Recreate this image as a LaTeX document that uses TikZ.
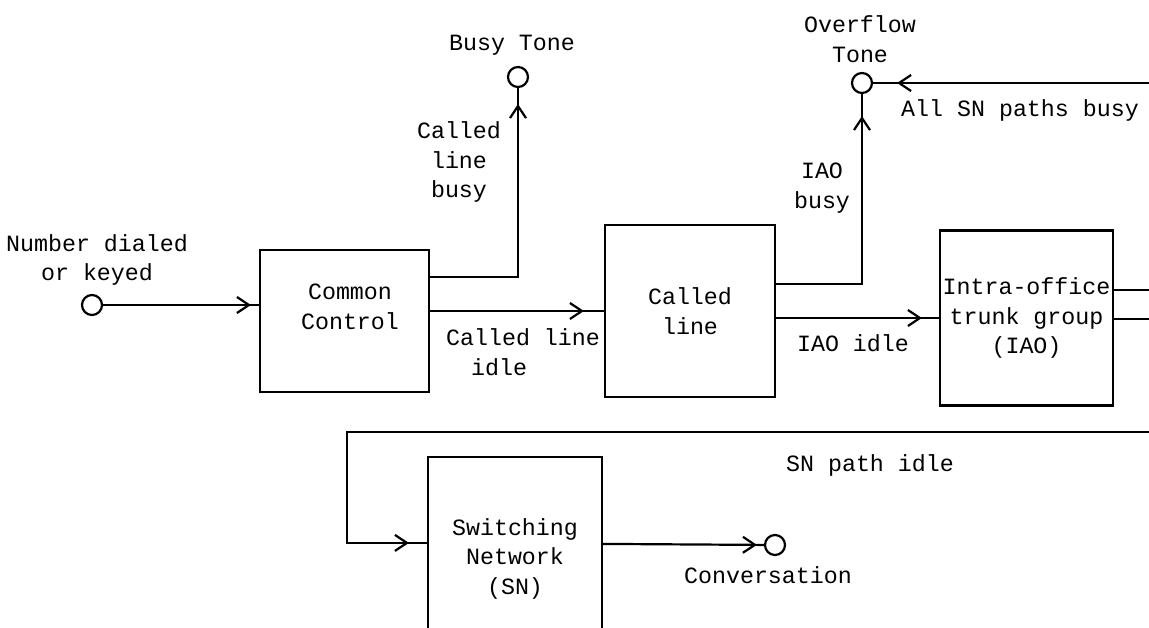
\documentclass[tikz,border=0pt]{standalone}
\usepackage{fontspec}
\newfontfamily\tw{Liberation Mono}
\usetikzlibrary{arrows.meta,decorations.markings,calc}
\begin{document}
\begin{tikzpicture}[x=1pt,y=-1pt,
  line width=2.2pt,
  >={Straight Barb[length=12pt,width=16pt]},
  lbl/.style={font=\tw\fontsize{23.3pt}{29.5pt}\selectfont, inner sep=0pt, align=center},
  blockbox/.style={draw, rectangle, inner sep=0pt, align=center,
    font=\tw\fontsize{23.3pt}{29.5pt}\selectfont},
  port/.style={draw, circle, minimum size=20pt, inner sep=0pt},
  flow/.style={postaction={decorate, decoration={markings,
    mark=at position #1 with {\arrow{>}}}}}]

% page frame
\fill[white] (0,0) rectangle (1149,627);
\useasboundingbox (0,0) rectangle (1149,627);

% blocks
\node[blockbox, minimum width=169pt, minimum height=142pt] (cc) at (344.5,321) {};
\node[lbl] (cctext) at (350,307) {Common\\Control};
\node[blockbox, minimum width=170pt, minimum height=172pt] (cl) at (690,311) {Called\\line};
\node[blockbox, minimum width=173pt, minimum height=175pt] (iao) at (1026.5,318)
  {Intra-office\\trunk group\\(IAO)};
\node[blockbox, minimum width=174pt, minimum height=203pt] (sn) at (515,558.5)
  {Switching\\Network\\(SN)};

% terminals
\node[port] (dial) at (92,305) {};
\node[port] (busy) at (518,77) {};
\node[port] (ovf)  at (862,83) {};
\node[port] (conv) at (775,545) {};

% lines leaving or entering at the right edge
\coordinate (edgeA) at (1149,83);
\coordinate (edgeB) at (1149,290);
\coordinate (edgeC) at (1149,319);
\coordinate (edgeD) at (1149,432);
\coordinate (loop)  at (347,432);

% labels
\node[lbl] (numlbl)  at (97,260)   {Number dialed\\or keyed};
\node[lbl] (busylbl) at (512,45)   {Busy Tone};
\node[lbl] (clbusy)  at (459,162)  {Called\\line\\busy};
\node[lbl, align=left, anchor=west] (clidle) at (445,352)
  {Called line\\\hspace*{25pt}idle};
\node[lbl] (ovflbl)  at (860,39)   {Overflow\\Tone};
\node[lbl] (allbusy) at (1020,110) {All SN paths busy};
\node[lbl] (iaobusy) at (822,188)  {IAO\\busy};
\node[lbl] (iaoidle) at (853,343)  {IAO idle};
\node[lbl] (snidle)  at (870,465)  {SN path idle};
\node[lbl] (convlbl) at (768,575)  {Conversation};

% connectors
\draw[flow=-8pt]  (dial.east) -- (dial.east -| cc.west);
\draw[flow=-16pt] ($(cc.north east)+(0,28)$) -| (busy);
\draw[flow=-20pt] (cc.east |- cl.west) -- (cl.west);
\draw[flow=-22pt] ($(cl.north east)+(0,60)$) -| (ovf);
\draw[flow=-17pt] (cl.east |- iao.west) -- (iao.west);
\draw[flow=-24pt] (edgeA) -- (ovf);
\draw (iao.east |- edgeB) -- (edgeB);
\draw (iao.east |- edgeC) -- (edgeC);
\draw[flow=-18pt] (edgeD) -- (loop) |- ($(sn.north west)+(0,87)$);
\draw[flow=-7pt]  ($(sn.north east)+(0,88)$) -- (conv);

\end{tikzpicture}
\end{document}
